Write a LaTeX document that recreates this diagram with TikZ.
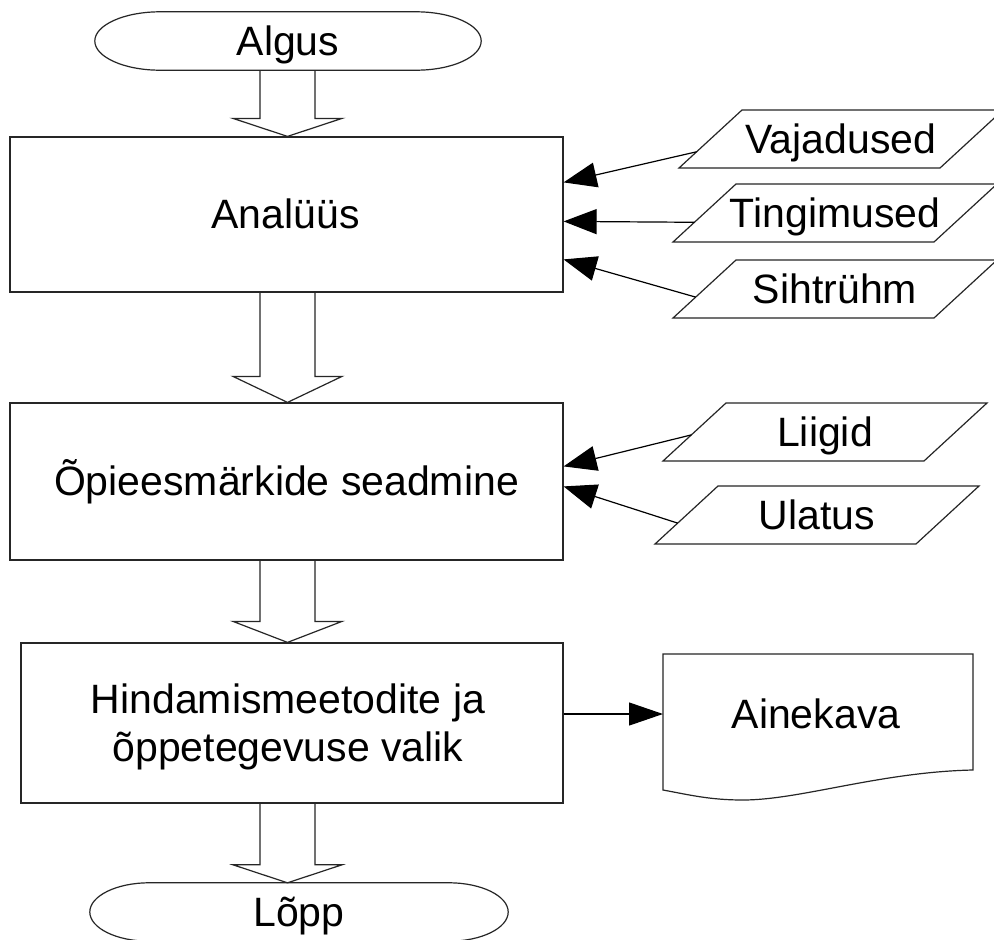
\documentclass[tikz,border=0pt]{standalone}
\usepackage{fontspec}
\setmainfont{Liberation Sans}
\usetikzlibrary{calc,arrows.meta}

\tikzset{
  shapeline/.style={draw=black!85, line width=1.2pt, line join=miter},
  txt/.style={font=\fontsize{41}{48}\selectfont, inner sep=0pt,
              text height=37.1pt, text depth=8.7pt},
  procbox/.style={shapeline, rectangle, inner sep=0pt},
  feed/.style={draw=black, line width=1.2pt,
               -{Triangle[length=33pt,width=25pt]}},
}

% Input/output slab: #1 name, #2 left x of the bottom edge, #3 bottom y,
% #4 label, #5 position of the outgoing connector along the left edge
\newcommand\dataslab[5]{%
  \draw[shapeline, fill=white] (#2,#3) -- ++(261,0) -- ++(63,-58) -- ++(-261,0) -- cycle;
  \coordinate (#1-out) at ($(#2,#3)!#5!({#2+63},{#3-58})$);
  \node[txt] (#1) at ({#2+162},{#3-29}) {#4};
}

% Start/end terminator with elliptic ends: #1 name, #2 centre,
% #3 half width, #4 half width of the flat part, #5 label
\newcommand\terminal[5]{%
  \node[txt, minimum width={2*#3}, minimum height=58] (#1) at (#2) {#5};
  \draw[shapeline]
    ($(#1.north)+(-#4,0)$) -- ($(#1.north)+(#4,0)$)
    .. controls ($(#1.north)+({#4+0.5523*(#3-#4)},0)$) and ($(#1.east)+(0,-16)$) .. (#1.east)
    .. controls ($(#1.east)+(0,16)$) and ($(#1.south)+({#4+0.5523*(#3-#4)},0)$) .. ($(#1.south)+(#4,0)$)
    -- ($(#1.south)+(-#4,0)$)
    .. controls ($(#1.south)+({-#4-0.5523*(#3-#4)},0)$) and ($(#1.west)+(0,16)$) .. (#1.west)
    .. controls ($(#1.west)+(0,-16)$) and ($(#1.north)+({-#4-0.5523*(#3-#4)},0)$) .. cycle;
}

% Hollow block arrow between two stacked nodes: #1 upper, #2 lower, #3 head height
\newcommand\blockarrow[3]{%
  \draw[shapeline] let \p1=(#1.south), \p2=(#2.north) in
    (260pt,\y1) -- (260pt,{\y2+#3pt}) -- (233pt,{\y2+#3pt}) -- (287.5pt,\y2)
    -- (342pt,{\y2+#3pt}) -- (315pt,{\y2+#3pt}) -- (315pt,\y1);
}

\begin{document}
\begin{tikzpicture}[x=1pt, y=-1pt]
  \clip (0,0) rectangle (994,940);
  \fill[white] (0,0) rectangle (994,940);

  % terminators
  \terminal{start}{288,41}{193}{128}{Algus}
  \terminal{stop}{299,912}{209}{150}{Lõpp}

  % process boxes
  \node[procbox, minimum width=553, minimum height=155] (ana) at (286.5,214.5) {};
  \node[txt] (ana-text) at (285.5,214.5) {Analüüs};
  \node[procbox, minimum width=553, minimum height=157] (goal) at (286.5,481.5) {};
  \node[txt] (goal-text) at (286.5,481.5) {Õpieesmärkide seadmine};
  \node[procbox, minimum width=542, minimum height=160] (eval) at (292,723) {};
  \node[txt, align=center, text height=85.1pt] (eval-text) at (288,723)
        {Hindamismeetodite ja\\õppetegevuse valik};

  % main flow
  \blockarrow{start}{ana}{18}
  \blockarrow{ana}{goal}{26}
  \blockarrow{goal}{eval}{21}
  \blockarrow{eval}{stop}{18}

  % inputs of the analysis
  \dataslab{vaj}{679}{168}{Vajadused}{0.28}
  \dataslab{ting}{673}{242}{Tingimused}{0.34}
  \dataslab{siht}{673}{318}{Sihtrühm}{0.36}
  \coordinate (ana-in1) at ($(ana.north east)+(0,46)$);
  \coordinate (ana-in2) at ($(ana.north east)+(0,85)$);
  \coordinate (ana-in3) at ($(ana.north east)+(0,123)$);
  \draw[feed] (vaj-out) -- (ana-in1);
  \draw[feed] (ting-out) -- (ana-in2);
  \draw[feed] (siht-out) -- (ana-in3);

  % inputs of the objectives
  \dataslab{liik}{663}{461}{Liigid}{0.45}
  \dataslab{ulat}{655}{544}{Ulatus}{0.36}
  \coordinate (goal-in1) at ($(goal.north east)+(0,64)$);
  \coordinate (goal-in2) at ($(goal.north east)+(0,84)$);
  \draw[feed] (liik-out) -- (goal-in1);
  \draw[feed] (ulat-out) -- (goal-in2);

  % output document
  \coordinate (doc-nw) at (663,654);
  \draw[shapeline] (doc-nw) -- (973,654) -- (973,770)
    .. controls (880,772) and (800,800) .. (743,800)
    .. controls (710,800) and (690,795) .. (663,790) -- cycle;
  \node[txt] (doc) at (816,714) {Ainekava};
  \coordinate (doc-in) at (663,714);
  \draw[feed, -{Triangle[length=34pt,width=23pt]}] (eval.east |- doc-in) -- (doc-in);
\end{tikzpicture}
\end{document}
